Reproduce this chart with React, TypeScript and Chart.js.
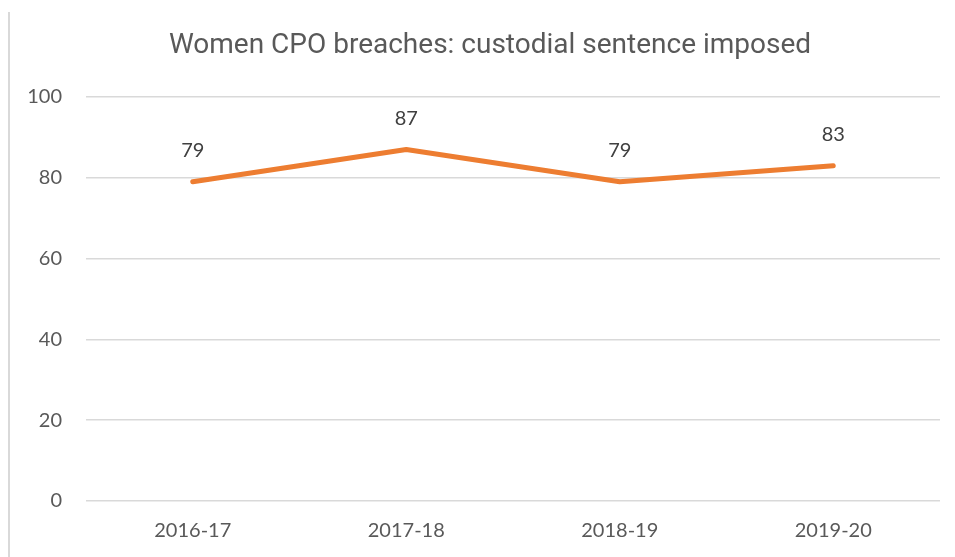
import React, { useEffect, useRef } from "react";
import { Chart, registerables } from "chart.js";

Chart.register(...registerables);

const TITLE = "Women CPO breaches: custodial sentence imposed";
const CATEGORIES = ["2016-17", "2017-18", "2018-19", "2019-20"];
const CUSTODIAL = [79, 87, 79, 83];
const Y_TICKS = [0, 20, 40, 60, 80, 100];

const FONT = "Lato, 'Open Sans', sans-serif";

const decorPlugin = {
  id: "decor",
  beforeDraw(chart: any) {
    const ctx = chart.ctx;
    ctx.save();
    ctx.fillStyle = "#ffffff";
    ctx.fillRect(0, 0, chart.width, chart.height);
    ctx.strokeStyle = "#d9d9d9";
    ctx.lineWidth = 2;
    ctx.beginPath();
    ctx.moveTo(9, 12);
    ctx.lineTo(9, chart.height);
    ctx.stroke();
    ctx.fillStyle = "#595959";
    ctx.font = "28px Roboto, sans-serif";
    ctx.textAlign = "center";
    ctx.textBaseline = "middle";
    ctx.fillText(TITLE, 490, 46);
    ctx.restore();
  },
  afterDatasetsDraw(chart: any) {
    const ctx = chart.ctx;
    const meta = chart.getDatasetMeta(0);
    ctx.save();
    ctx.fillStyle = "#404040";
    ctx.font = `20px ${FONT}`;
    ctx.textAlign = "center";
    ctx.textBaseline = "middle";
    meta.data.forEach((pt: any, i: number) => {
      ctx.fillText(String(CUSTODIAL[i]), pt.x, pt.y - 31);
    });
    ctx.restore();
  },
};

export default function App() {
  const ref = useRef<HTMLCanvasElement>(null);
  useEffect(() => {
    if (!ref.current) return;
    const chart = new Chart(ref.current, {
      type: "line",
      data: {
        labels: CATEGORIES,
        datasets: [
          {
            label: "Custodial sentence imposed",
            data: CUSTODIAL,
            borderColor: "#ED7D31",
            backgroundColor: "#ED7D31",
            borderWidth: 5,
            borderCapStyle: "round",
            borderJoinStyle: "round",
            pointRadius: 0,
            tension: 0,
          },
        ],
      },
      options: {
        responsive: false,
        animation: false,
        layout: { padding: { top: 97, right: 15, left: 0, bottom: 0 } },
        plugins: {
          legend: { display: false },
          title: { display: false },
          tooltip: { enabled: false },
        },
        scales: {
          x: {
            offset: true,
            grid: { display: false, drawTicks: false },
            border: { display: false },
            ticks: {
              color: "#595959",
              font: { family: FONT, size: 20 },
              padding: 18,
            },
            afterFit: (s: any) => {
              s.height = 56;
            },
          },
          y: {
            min: 0,
            max: 100,
            afterBuildTicks: (s: any) => {
              s.ticks = Y_TICKS.map((v) => ({ value: v }));
            },
            grid: { color: "#d9d9d9", lineWidth: 1.5, drawTicks: false },
            border: { display: false },
            ticks: {
              color: "#595959",
              font: { family: FONT, size: 20 },
              padding: 24,
            },
            afterFit: (s: any) => {
              s.width = 86;
            },
          },
        },
      },
      plugins: [decorPlugin],
    });
    return () => chart.destroy();
  }, []);
  return (
    <div style={{ position: "absolute", left: 0, top: 0, width: 955, height: 557 }}>
      <canvas ref={ref} width={955} height={557} style={{ width: 955, height: 557, display: "block" }} />
    </div>
  );
}
